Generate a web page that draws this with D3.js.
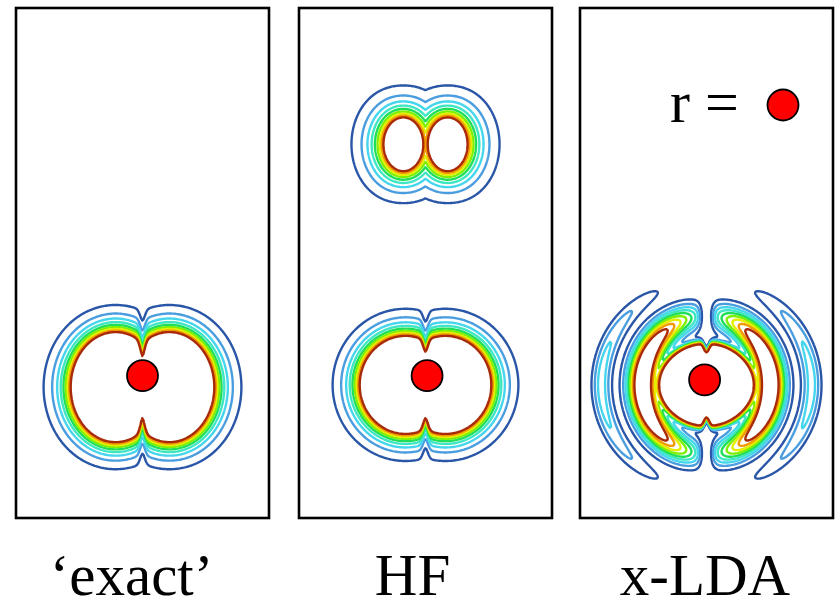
<!DOCTYPE html>
<html>
<head>
<meta charset="utf-8">
<script src="https://cdn.jsdelivr.net/npm/d3@7"></script>
<style>
  body { margin: 0; background: #fff; }
  svg { display: block; }
</style>
</head>
<body>
<svg id="chart" width="838" height="605"></svg>
<script>
// panel titles
var titles = ["\u2018exact\u2019", "HF", "x-LDA"];

// reference electron (red dot) of each panel, bohr
var electronX = [0, 0.05, -0.06];
var electronY = [0, 0, -0.13];

// contour thresholds (fraction of the hole depth) and their colours
var levels = [0.1, 0.2, 0.3, 0.4, 0.5, 0.6, 0.7, 0.8, 0.9];
var levelColors = ["#2a56a8", "#4a9ee0", "#45d6ee", "#3ee6c4", "#1ede5a", "#7cf000", "#e6ee00", "#f29a00", "#a82a08"];

// 'exact' and HF holes: elliptic lobes (centre, half axes, decay, notch on the nodal line), bohr
var exactLobes = [
  {cx: -0.85, cy: -0.36, rx: 1.42, ry: 1.74, decay: 0.39, notch: 0.28},
  {cx:  0.85, cy: -0.36, rx: 1.42, ry: 1.74, decay: 0.39, notch: 0.28}
];
var hfLobes = [
  {cx: -0.70, cy: 7.32, rx: 0.63, ry: 0.85, decay: 0.46, notch: 0},
  {cx:  0.70, cy: 7.32, rx: 0.63, ry: 0.85, decay: 0.46, notch: 0},
  {cx: -0.63, cy: -0.29, rx: 1.45, ry: 1.55, decay: 0.39, notch: 0.30},
  {cx:  0.63, cy: -0.29, rx: 1.45, ry: 1.55, decay: 0.39, notch: 0.30}
];

// x-LDA hole: deep core plus two oscillation rings (cos^power angular weight)
var ldaCore = {cx: 0, cy: -0.29, rx: 1.49, ry: 1.36, edge: 0.04, notch: 0.2};
var ldaRings = [
  {rx: 2.02, ry: 2.2, amp: 1.25, width: 0.32, power: 0.6, gap: 0.2},
  {rx: 3.32, ry: 3.32, amp: 0.35, width: 0.2, power: 1.65, gap: 0}
];

var xDomain = [-4, 4], yDomain = [-4.5, 11.63];
var notchWidth = 0.11;

// layout
var panelLeft = [16, 299, 580], panelW = 253, panelTop = 8, panelBottom = 518;
var labelShift = [-11, -13, -1.5];
var cell = 1.25;
var serif = "Liberation Serif";

var svg = d3.select("#chart");

function ellipseDist(x, y, l) {
  var px = x - l.cx, py = y - l.cy;
  var k0 = Math.sqrt(px * px / (l.rx * l.rx) + py * py / (l.ry * l.ry));
  var k1 = Math.sqrt(px * px / Math.pow(l.rx, 4) + py * py / Math.pow(l.ry, 4));
  if (k1 < 1e-9) return -Math.min(l.rx, l.ry);
  return k0 * (k0 - 1) / k1;
}

function lobeField(lobes) {
  return function(x, y) {
    var f = 0;
    lobes.forEach(function(l) {
      var d = ellipseDist(x, y, l) + l.notch * Math.exp(-x * x / (notchWidth * notchWidth));
      f = Math.max(f, 0.9 * Math.exp(-d / l.decay));
    });
    return Math.min(f, 1.5);
  };
}

function ldaField(x, y) {
  var c = ldaCore;
  var u = x - c.cx, v = y - c.cy;
  var q = Math.sqrt(u * u / (c.rx * c.rx) + v * v / (c.ry * c.ry)) + c.notch * Math.exp(-u * u / (notchWidth * notchWidth));
  var f = 1.2 / (1 + Math.exp((q - 1) / c.edge));
  var r = Math.sqrt(u * u + v * v);
  var cs = r > 0 ? Math.abs(u) / r : 1, sn = r > 0 ? Math.abs(v) / r : 0;
  ldaRings.forEach(function(g) {
    var R = 1 / Math.sqrt(cs * cs / (g.rx * g.rx) + sn * sn / (g.ry * g.ry));
    var dr = r - R;
    var a = g.amp * Math.exp(-dr * dr / (2 * g.width * g.width)) * Math.pow(cs, g.power);
    if (g.gap > 0) a *= 1 - Math.exp(-u * u / (g.gap * g.gap));
    f += a;
  });
  return Math.min(f, 1.5);
}

var fields = [lobeField(exactLobes), lobeField(hfLobes), ldaField];

var color = d3.scaleOrdinal().domain(levels).range(levelColors);

titles.forEach(function(t, p) {
  var x = d3.scaleLinear().domain(xDomain).range([panelLeft[p], panelLeft[p] + panelW]);
  var y = d3.scaleLinear().domain(yDomain).range([panelBottom, panelTop]);

  var nx = Math.ceil(panelW / cell) + 1, ny = Math.ceil((panelBottom - panelTop) / cell) + 1;
  var values = new Float64Array(nx * ny);
  for (var j = 0; j < ny; j++) {
    for (var i = 0; i < nx; i++) {
      values[j * nx + i] = fields[p](x.invert(panelLeft[p] + i * cell), y.invert(panelTop + j * cell));
    }
  }

  var contours = d3.contours().size([nx, ny]).thresholds(levels)(values);
  var path = d3.geoPath(d3.geoTransform({
    point: function(gx, gy) {
      this.stream.point(panelLeft[p] + (gx - 0.5) * cell, panelTop + (gy - 0.5) * cell);
    }
  }));

  var g = svg.append("g").attr("class", "panel");

  g.selectAll("path.level")
    .data(contours)
    .enter().append("path")
      .attr("class", "level")
      .attr("d", path)
      .attr("fill", "none")
      .attr("stroke", function(d) { return color(d.value); })
      .attr("stroke-width", 2.4)
      .attr("stroke-linejoin", "round");

  g.append("rect")
    .attr("x", panelLeft[p])
    .attr("y", panelTop)
    .attr("width", panelW)
    .attr("height", panelBottom - panelTop)
    .attr("fill", "none")
    .attr("stroke", "#000")
    .attr("stroke-width", 2.6);

  g.append("circle")
    .attr("cx", x(electronX[p]))
    .attr("cy", y(electronY[p]))
    .attr("r", 15.5)
    .attr("fill", "#ff0000")
    .attr("stroke", "#000")
    .attr("stroke-width", 1.8);

  svg.append("text")
    .attr("x", (panelLeft[p] + panelW / 2) + labelShift[p])
    .attr("y", 595)
    .attr("text-anchor", "middle")
    .attr("font-family", serif)
    .attr("font-size", 59)
    .text(t);
});

// legend: r = electron position
svg.append("text")
  .attr("x", 670)
  .attr("y", 122)
  .attr("font-family", serif)
  .attr("font-size", 60)
  .text("r =");
svg.append("circle")
  .attr("cx", 783)
  .attr("cy", 105)
  .attr("r", 15.5)
  .attr("fill", "#ff0000")
  .attr("stroke", "#000")
  .attr("stroke-width", 1.8);
</script>
</body>
</html>
